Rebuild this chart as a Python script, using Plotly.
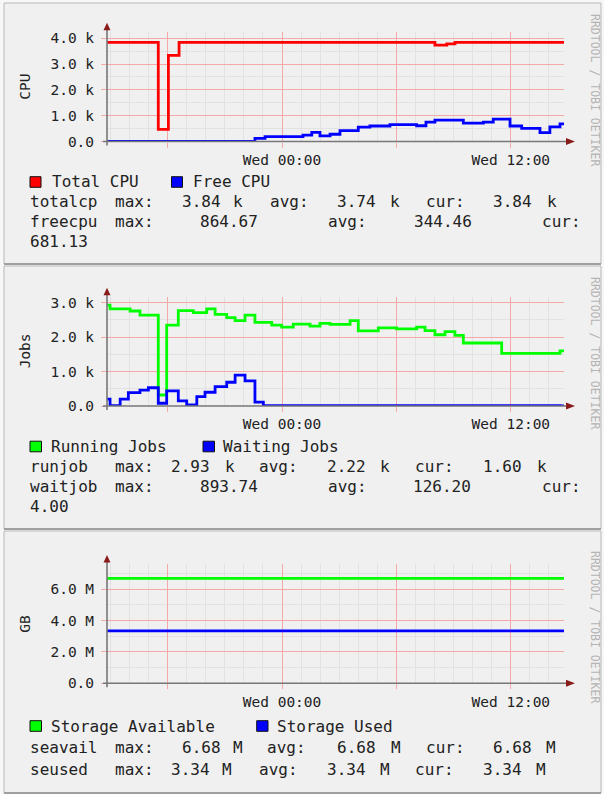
import plotly.graph_objects as go

W, H = 604, 794

# ------------------------------------------------------------------ data
# time axis: hours relative to Wed 00:00
x_start, x_end = -9.18, 14.79
major_hours = [-6, 0, 6, 12]
time_labels = ["", "Wed 00:00", "", "Wed 12:00"]

# CPU panel (step series: value holds until next change point)
total_cpu_h = [-9.18, -6.49, -5.96, -5.40, 8.02, 8.64, 9.07, 14.79]
total_cpu_v = [3840, 470, 3340, 3840, 3730, 3780, 3840, 3840]
free_cpu_h = [-9.18, -1.42, -0.89, 1.10, 1.56, 1.99, 2.52, 3.04, 4.00, 4.61, 5.66,
              7.06, 7.55, 8.02, 9.51, 10.56, 11.08, 11.96, 12.57, 13.53, 14.05, 14.58, 14.79]
free_cpu_v = [0, 120, 190, 250, 350, 220, 280, 420, 560, 600, 650,
              610, 750, 830, 710, 750, 865, 600, 510, 340, 570, 681, 681]

# Jobs panel
run_jobs_h = [-9.18, -9.02, -7.97, -7.45, -6.49, -6.05, -5.44, -4.65, -3.95, -3.51, -2.90,
              -2.46, -1.94, -1.42, -0.54, -0.02, 0.59, 1.47, 1.99, 2.52, 3.57, 4.00, 5.05,
              6.01, 7.06, 7.50, 8.02, 8.55, 9.07, 9.51, 11.52, 14.58, 14.79]
run_jobs_v = [2930, 2820, 2760, 2640, 320, 2350, 2770, 2710, 2820, 2660, 2570,
              2480, 2640, 2430, 2350, 2290, 2380, 2320, 2400, 2370, 2480, 2180, 2270,
              2240, 2290, 2190, 2070, 2160, 2050, 1830, 1530, 1600, 1600]
wait_jobs_h = [-9.18, -9.02, -8.49, -8.06, -7.45, -7.01, -6.49, -6.05, -5.44, -5.00, -4.47,
               -4.04, -3.51, -2.90, -2.46, -1.94, -1.42, -0.98, 14.58, 14.79]
wait_jobs_v = [200, 10, 200, 390, 460, 530, 80, 440, 150, 30, 270,
               400, 560, 690, 894, 730, 110, 10, 4, 4]

# Storage panel
storage_h = [-9.18, 14.79]
storage_avail_v = [6.68e6, 6.68e6]
storage_used_v = [3.34e6, 3.34e6]

# tick labels
cpu_ticks = [0, 1000, 2000, 3000, 4000]
cpu_ticktext = ["0.0", "1.0 k", "2.0 k", "3.0 k", "4.0 k"]
jobs_ticks = [0, 1000, 2000, 3000]
jobs_ticktext = ["0.0", "1.0 k", "2.0 k", "3.0 k"]
gb_ticks = [0, 2e6, 4e6, 6e6]
gb_ticktext = ["0.0", "2.0 M", "4.0 M", "6.0 M"]

# legend names and statistics (max, avg, cur)
cpu_legend = ["Total CPU", "Free CPU"]
cpu_stats = [("totalcp", ["3.84 k", "3.74 k", "3.84 k"]),
             ("freecpu", ["864.67", "344.46", "681.13"])]
jobs_legend = ["Running Jobs", "Waiting Jobs"]
jobs_stats = [("runjob", ["2.93 k", "2.22 k", "1.60 k"]),
              ("waitjob", ["893.74", "126.20", "4.00"])]
gb_legend = ["Storage Available", "Storage Used"]
gb_stats = [("seavail", ["6.68 M", "6.68 M", "6.68 M"]),
            ("seused", ["3.34 M", "3.34 M", "3.34 M"])]

RED, BLUE, GREEN = "#ff0000", "#0000ff", "#00ff00"
FONT = "DejaVu Sans Mono"
TXT = "#222222"

# ------------------------------------------------------------------ geometry (pixels)
PX_L, PX_R = 107, 564
panels = [
    dict(box=(4, 3, 601, 264), top=31.8, bottom=141.5, ymax=4250, ticks=cpu_ticks,
         ticktext=cpu_ticktext, minor=500, title="CPU"),
    dict(box=(4, 266, 601, 529), top=296.7, bottom=406, ymax=3175, ticks=jobs_ticks,
         ticktext=jobs_ticktext, minor=500, title="Jobs"),
    dict(box=(4, 531, 601, 793), top=564, bottom=683.3, ymax=7.6e6, ticks=gb_ticks,
         ticktext=gb_ticktext, minor=1e6, title="GB"),
]


def fx(x):
    return x / W


def fy(y):
    return 1 - y / H


fig = go.Figure()

series = [
    [(total_cpu_h, total_cpu_v, RED, "Total CPU"), (free_cpu_h, free_cpu_v, BLUE, "Free CPU")],
    [(run_jobs_h, run_jobs_v, GREEN, "Running Jobs"), (wait_jobs_h, wait_jobs_v, BLUE, "Waiting Jobs")],
    [(storage_h, storage_avail_v, GREEN, "Storage Available"), (storage_h, storage_used_v, BLUE, "Storage Used")],
]

shapes = []
annotations = []
layout_axes = {}

for i, p in enumerate(panels):
    n = "" if i == 0 else str(i + 1)
    for hs, vs, col, name in series[i]:
        fig.add_trace(go.Scatter(x=hs, y=vs, mode="lines", line=dict(color=col, width=2.8, shape="hv"),
                                 name=name, showlegend=False, xaxis="x" + n, yaxis="y" + n,
                                 cliponaxis=True))
    layout_axes["xaxis" + n] = dict(
        domain=[fx(PX_L), fx(PX_R)], range=[x_start, x_end], anchor="y" + n, automargin=False,
        tickmode="array", tickvals=major_hours, ticktext=time_labels,
        showgrid=True, gridcolor="#f4a8a8", gridwidth=1, zeroline=False, showline=False,
        ticks="outside", ticklen=5, tickcolor="#f4a8a8",
        tickfont=dict(family=FONT, size=14.5, color=TXT),
        minor=dict(tickmode="linear", tick0=0, dtick=1, showgrid=True, gridcolor="#e2e2e2", ticks=""),
        fixedrange=True)
    layout_axes["yaxis" + n] = dict(
        domain=[fy(p["bottom"]), fy(p["top"])], range=[0, p["ymax"]], anchor="x" + n, automargin=False,
        tickmode="array", tickvals=p["ticks"], ticktext=p["ticktext"],
        showgrid=True, gridcolor="#f4a8a8", gridwidth=1, zeroline=False, showline=False,
        ticks="outside", ticklen=5, tickcolor="#f4a8a8", ticklabelstandoff=4,
        tickfont=dict(family=FONT, size=14.5, color=TXT),
        minor=dict(tickmode="linear", tick0=0, dtick=p["minor"], showgrid=True, gridcolor="#e2e2e2", ticks=""),
        fixedrange=True)

    # panel frame
    x0, y0, x1, y1 = p["box"]
    shapes.append(dict(type="rect", xref="paper", yref="paper", x0=fx(x0), x1=fx(x1), y0=fy(y1), y1=fy(y0),
                       fillcolor="#f0f0f0", line=dict(color="#b8b8b8", width=1), layer="below"))
    shapes.append(dict(type="line", xref="paper", yref="paper", x0=fx(x0), x1=fx(x1), y0=fy(y1), y1=fy(y1),
                       line=dict(color="#a0a0a0", width=2), layer="below"))
    # axes
    top, bot = p["top"], p["bottom"]
    shapes.append(dict(type="line", xref="paper", yref="paper", x0=fx(PX_L), x1=fx(PX_L),
                       y0=fy(bot + 4), y1=fy(top - 3), line=dict(color="#777777", width=1.6), layer="above"))
    shapes.append(dict(type="line", xref="paper", yref="paper", x0=fx(PX_L - 4), x1=fx(568),
                       y0=fy(bot), y1=fy(bot), line=dict(color="#777777", width=1.6), layer="above"))
    shapes.append(dict(type="path", xref="paper", yref="paper",
                       path=f"M {fx(PX_L-3.5)},{fy(top-1.5)} L {fx(PX_L+3.5)},{fy(top-1.5)} L {fx(PX_L)},{fy(top-9)} Z",
                       fillcolor="#8b1c1c", line=dict(width=0), layer="above"))
    shapes.append(dict(type="path", xref="paper", yref="paper",
                       path=f"M {fx(566)},{fy(bot-3.5)} L {fx(566)},{fy(bot+3.5)} L {fx(575)},{fy(bot)} Z",
                       fillcolor="#8b1c1c", line=dict(width=0), layer="above"))
    # y-axis title
    annotations.append(dict(text=p["title"], x=fx(25), y=fy((top + bot) / 2), xref="paper", yref="paper",
                            showarrow=False, textangle=-90, font=dict(family=FONT, size=14.5, color=TXT),
                            xanchor="center", yanchor="middle"))
    # credit text
    annotations.append(dict(text="RRDTOOL / TOBI OETIKER", x=fx(595), y=fy(y0 + 87 if i < 2 else y0 + 96),
                            xref="paper", yref="paper", showarrow=False, textangle=90,
                            font=dict(family=FONT, size=11.5, color="#b4b4b4"),
                            xanchor="center", yanchor="middle"))


def text(t, x, y, size=16):
    annotations.append(dict(text=t, x=fx(x - 1), y=fy(y), xref="paper", yref="paper", showarrow=False,
                            xanchor="left", yanchor="middle", borderpad=0,
                            font=dict(family=FONT, size=size, color=TXT)))


def square(x0, y0, x1, y1, col):
    shapes.append(dict(type="rect", xref="paper", yref="paper", x0=fx(x0), x1=fx(x1), y0=fy(y1), y1=fy(y0),
                       fillcolor=col, line=dict(color="#111111", width=1), layer="above"))


# legend row 1
legend_rows = [
    (cpu_legend, [RED, BLUE], 182, [(30, 41, 51.7), (171.5, 182.5, 192.7)]),
    (jobs_legend, [GREEN, BLUE], 446.5, [(30, 41.5, 50.7), (203, 214.5, 223.3)]),
    (gb_legend, [GREEN, BLUE], 726, [(30, 41.5, 50.7), (256.7, 268, 276.7)]),
]
for names, cols, yc, pos in legend_rows:
    for nm, col, (sx0, sx1, tx) in zip(names, cols, pos):
        square(sx0, yc - 5.3, sx1, yc + 5.3, col)
        text(nm, tx, yc)

# stat rows: positions of tokens
# (name, "max:", num, unit, "avg:", num, unit, "cur:", num, unit)
full_pos = {
    "cpu0": [30, 115, 182.3, 233, 270, 337, 390, 426, 492.7, 546.7],
    "jobs0": [30, 115, 171, 225, 259.3, 326.7, 380, 415, 482.7, 536.7],
    "gb0": [30, 115, 181.7, 233.3, 266.7, 337.3, 390.7, 426, 492.7, 546],
    "gb1": [30, 115, 171, 221.7, 259.3, 326.7, 380, 415, 482.7, 536],
}
# rows with unitless numbers: name, max:, num, avg:, num, cur:, (wrapped) num
short_pos = {
    "cpu1": [30, 115, 200, 328.3, 414.3, 542.3, 30],
    "jobs1": [30, 115, 200, 328.3, 413.3, 542.3, 30],
}
stat_rows = [
    ("cpu0", cpu_stats[0], 201.7), ("cpu1", cpu_stats[1], 221.5, 241.5),
    ("jobs0", jobs_stats[0], 466.7), ("jobs1", jobs_stats[1], 486.7, 506.3),
    ("gb0", gb_stats[0], 747.5), ("gb1", gb_stats[1], 769),
]
for row in stat_rows:
    key, (nm, vals), yc = row[0], row[1], row[2]
    if key in full_pos:
        ps = full_pos[key]
        text(nm, ps[0], yc)
        for j, lab in enumerate(["max:", "avg:", "cur:"]):
            num, unit = vals[j].split(" ")
            text(lab, ps[1 + 3 * j], yc)
            text(num, ps[2 + 3 * j], yc)
            text(unit, ps[3 + 3 * j], yc)
    else:
        ps = short_pos[key]
        text(nm, ps[0], yc)
        text("max:", ps[1], yc)
        text(vals[0], ps[2], yc)
        text("avg:", ps[3], yc)
        text(vals[1], ps[4], yc)
        text("cur:", ps[5], yc)
        text(vals[2], ps[6], row[3])

fig.update_layout(
    width=W, height=H, margin=dict(l=0, r=0, t=0, b=0, pad=0, autoexpand=False),
    paper_bgcolor="#f7f7f7", plot_bgcolor="#ffffff",
    shapes=shapes, annotations=annotations, showlegend=False,
    **layout_axes,
)

page_fix = (
    "var s=[document.documentElement.style, document.body.style];"
    "for (var k=0;k<s.length;k++){s[k].margin='0';s[k].padding='0';s[k].overflow='hidden';}"
)
fig.write_html("out.html", config={"displayModeBar": False}, post_script=page_fix)
